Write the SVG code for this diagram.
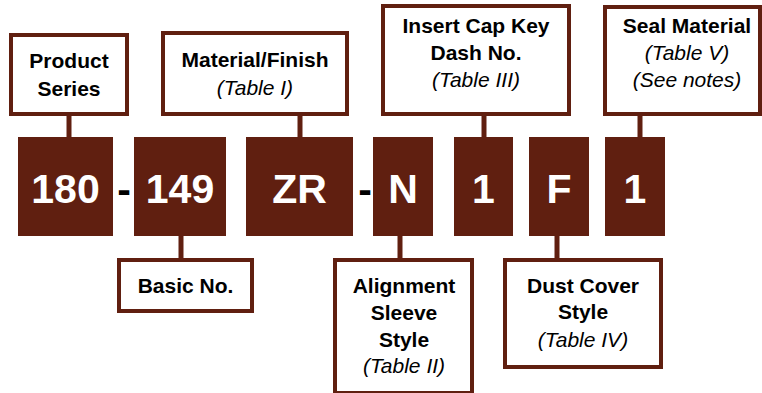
<svg xmlns="http://www.w3.org/2000/svg" width="762" height="393" viewBox="0 0 762 393">
<style>
.lbl{fill:#fff;stroke:#601f10;stroke-width:4}
.code{fill:#601f10}
.t{font-family:"Liberation Sans",Arial,sans-serif;font-size:21px;text-anchor:middle;fill:#000}
.b{font-weight:bold}
.i{font-style:italic}
.big{font-family:"Liberation Sans",Arial,sans-serif;font-size:41px;font-weight:bold;text-anchor:middle;fill:#fff}
.dash{font-family:"Liberation Sans",Arial,sans-serif;font-size:41px;font-weight:bold;text-anchor:middle;fill:#000}
.con{stroke:#601f10;stroke-width:5;fill:none}
</style>
<rect width="762" height="393" fill="#fff"/>
<g id="connectors">
<line class="con" x1="69" y1="116" x2="69" y2="138"/>
<line class="con" x1="300" y1="116" x2="300" y2="138"/>
<line class="con" x1="484" y1="116" x2="484" y2="138"/>
<line class="con" x1="640" y1="116" x2="640" y2="138"/>
<line class="con" x1="181" y1="235" x2="181" y2="259"/>
<line class="con" x1="400" y1="235" x2="400" y2="259"/>
<line class="con" x1="557" y1="235" x2="557" y2="259"/>
</g>
<g id="code-180"><rect class="code" x="18" y="137" width="95" height="99"/><text class="big" x="65.5" y="203">180</text></g>
<g id="dash-1"><text class="dash" x="124" y="203">-</text></g>
<g id="code-149"><rect class="code" x="134" y="137" width="92" height="99"/><text class="big" x="180" y="203">149</text></g>
<g id="code-ZR"><rect class="code" x="246" y="137" width="107" height="99"/><text class="big" x="299.5" y="203">ZR</text></g>
<g id="dash-2"><text class="dash" x="365" y="203">-</text></g>
<g id="code-N"><rect class="code" x="373" y="137" width="60" height="99"/><text class="big" x="403" y="203">N</text></g>
<g id="code-1a"><rect class="code" x="454" y="137" width="59" height="99"/><text class="big" x="483.5" y="203">1</text></g>
<g id="code-F"><rect class="code" x="529" y="137" width="60" height="99"/><text class="big" x="559" y="203">F</text></g>
<g id="code-1b"><rect class="code" x="605" y="137" width="60" height="99"/><text class="big" x="635" y="203">1</text></g>
<g id="product-series"><rect class="lbl" x="11" y="35" width="116" height="79"/>
<text class="t b" x="69" y="68">Product</text><text class="t b" x="69" y="96">Series</text></g>
<g id="material-finish"><rect class="lbl" x="163" y="33" width="184" height="81"/>
<text class="t b" x="255" y="67">Material/Finish</text><text class="t i" x="255" y="95">(Table I)</text></g>
<g id="insert-cap"><rect class="lbl" x="383" y="6" width="186" height="108"/>
<text class="t b" x="476" y="33">Insert Cap Key</text><text class="t b" x="476" y="60">Dash No.</text><text class="t i" x="476" y="87">(Table III)</text></g>
<g id="seal-material"><rect class="lbl" x="605" y="7" width="155" height="107"/>
<text class="t b" x="687" y="33">Seal Material</text><text class="t i" x="687" y="60">(Table V)</text><text class="t i" x="687" y="87">(See notes)</text></g>
<g id="basic-no"><rect class="lbl" x="119" y="260" width="133" height="51"/>
<text class="t b" x="185.5" y="293">Basic No.</text></g>
<g id="alignment"><rect class="lbl" x="335" y="260" width="137" height="133"/>
<text class="t b" x="404" y="293">Alignment</text><text class="t b" x="404" y="320">Sleeve</text><text class="t b" x="404" y="347">Style</text><text class="t i" x="404" y="373">(Table II)</text></g>
<g id="dust-cover"><rect class="lbl" x="505" y="260" width="156" height="107"/>
<text class="t b" x="583" y="293">Dust Cover</text><text class="t b" x="583" y="319">Style</text><text class="t i" x="583" y="347">(Table IV)</text></g>
</svg>
